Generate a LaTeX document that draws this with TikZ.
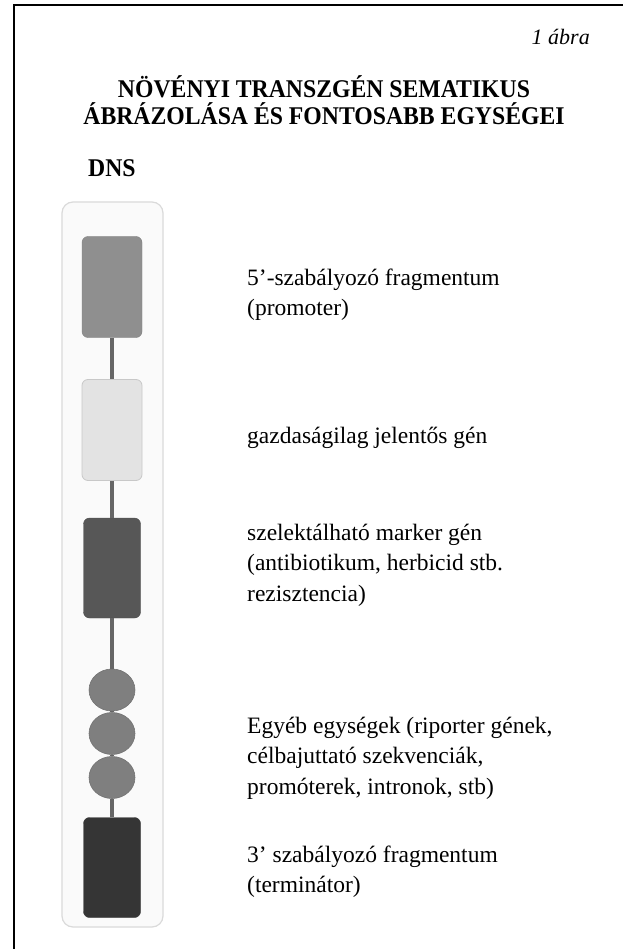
\documentclass[tikz,border=0pt]{standalone}
\usepackage{fontspec}
\setmainfont{Liberation Serif}
\usetikzlibrary{shapes.geometric}
\definecolor{cfrag}{HTML}{8F8F8F}
\definecolor{cgene}{HTML}{E3E3E3}
\definecolor{cgeneb}{HTML}{C8C8C8}
\definecolor{cmark}{HTML}{575757}
\definecolor{cother}{HTML}{7F7F7F}
\definecolor{cterm}{HTML}{353535}
\definecolor{clink}{HTML}{666666}
\definecolor{ccont}{HTML}{FAFAFA}
\definecolor{ccontb}{HTML}{DADADA}
\tikzset{
  unit/.style={rounded corners=6pt, minimum width=60pt, minimum height=101pt, inner sep=0pt},
  blob/.style={ellipse, minimum width=46pt, minimum height=42pt, inner sep=0pt, fill=cother, draw=cother!90!black, line width=0.6pt},
  link/.style={draw=clink, line width=4pt},
  lab/.style={anchor=north west, align=left, inner sep=0pt, font=\fontsize{23.5}{30.8}\selectfont},
  head/.style={inner sep=0pt, xscale=0.93, transform shape, font=\fontsize{25.5}{26.5}\selectfont\bfseries},
}
\begin{document}
\begin{tikzpicture}[x=1pt,y=-1pt]
\useasboundingbox (0,0) rectangle (623,949);
\fill[white] (0,0) rectangle (623,949);
\draw[line width=2.5pt] (14,949) -- (14,5) -- (623,5);

\node[anchor=base east, font=\fontsize{22}{26}\selectfont\itshape, inner sep=0pt] (fig) at (590,45) {1 ábra};
\node[head, anchor=north, align=center] (title) at (324,72.7) {\rule{0pt}{25pt}NÖVÉNYI TRANSZGÉN SEMATIKUS\\ÁBRÁZOLÁSA ÉS FONTOSABB EGYSÉGEI};
\node[head, anchor=base west] (dns) at (88,177) {DNS};

\node[draw=ccontb, fill=ccont, rounded corners=11pt, line width=1.2pt, minimum width=101pt, minimum height=725pt] (cont) at (112.5,564.5) {};

\node[unit, fill=cfrag, draw=cfrag!90!black] (prom) at (112,287) {};
\node[unit, fill=cgene, draw=cgeneb, line width=0.8pt] (gene) at (112,430) {};
\node[unit, fill=cmark, draw=cmark!90!black, minimum width=57pt, minimum height=100pt] (mark) at (112,568) {};
\node[blob] (o1) at (112,690) {};
\node[blob] (o2) at (112,733.5) {};
\node[blob] (o3) at (112,777.5) {};
\node[unit, fill=cterm, draw=cterm, minimum width=57pt, minimum height=100pt] (term) at (112,867.5) {};

\draw[link] (prom.south) -- (gene.north);
\draw[link] (gene.south) -- (mark.north);
\draw[link] (mark.south) -- (o1.north);
\draw[link] (o1.south) -- (o2.north);
\draw[link] (o2.south) -- (o3.north);
\draw[link] (o3.south) -- (term.north);

\node[lab] (l1) at (247,263.4) {\strut 5’-szabályozó fragmentum\\(promoter)};
\node[lab] (l2) at (247,421.4) {\strut gazdaságilag jelentős gén};
\node[lab] (l3) at (247,518.4) {\strut szelektálható marker gén\\(antibiotikum, herbicid stb.\\rezisztencia)};
\node[lab] (l4) at (247,711.4) {\strut Egyéb egységek (riporter gének,\\célbajuttató szekvenciák,\\promóterek, intronok, stb)};
\node[lab] (l5) at (247,840.4) {\strut 3’ szabályozó fragmentum\\(terminátor)};
\end{tikzpicture}
\end{document}
